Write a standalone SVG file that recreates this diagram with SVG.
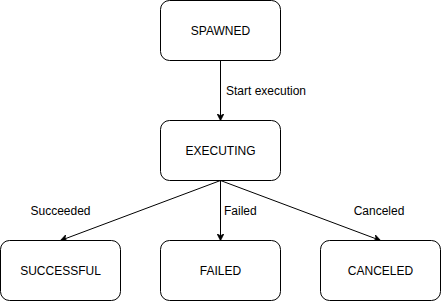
<svg xmlns="http://www.w3.org/2000/svg" width="441" height="301" viewBox="0 0 441 301">
  <style>
    .node rect { fill: #ffffff; stroke: #000000; stroke-width: 1; }
    .node text { font-family: "Liberation Sans", Arial, sans-serif; font-size: 12px; fill: #000000; text-anchor: middle; dominant-baseline: central; }
    .edge { stroke: #000000; stroke-width: 1; fill: none; marker-end: url(#arrow); }
    .label { font-family: "Liberation Sans", Arial, sans-serif; font-size: 12px; fill: #000000; dominant-baseline: central; }
  </style>
  <defs>
    <marker id="arrow" viewBox="0 0 10 10" refX="9" refY="5" markerWidth="7" markerHeight="7" markerUnits="userSpaceOnUse" orient="auto">
      <path d="M0,0 L10,5 L0,10 L3,5 Z" fill="#000000" stroke="#000000" stroke-width="1"/>
    </marker>
  </defs>
  <rect width="441" height="301" fill="#ffffff"/>

  <g id="connectors">
    <line class="edge" x1="220.5" y1="60.5" x2="220.5" y2="120"/>
    <line class="edge" x1="220.5" y1="180.5" x2="61" y2="240.3"/>
    <line class="edge" x1="220.5" y1="180.5" x2="220.5" y2="240"/>
    <line class="edge" x1="220.5" y1="180.5" x2="380" y2="240.3"/>
    <text class="label" x="226" y="91">Start execution</text>
    <text class="label" x="60.5" y="210.5" text-anchor="middle">Succeeded</text>
    <text class="label" x="224" y="210.5">Failed</text>
    <text class="label" x="379" y="210.5" text-anchor="middle">Canceled</text>
  </g>

  <g id="spawned" class="node">
    <rect x="160.5" y="0.5" width="120" height="60" rx="9" ry="9"/>
    <text x="220.5" y="30.5">SPAWNED</text>
  </g>
  <g id="executing" class="node">
    <rect x="160.5" y="120.5" width="120" height="60" rx="9" ry="9"/>
    <text x="220.5" y="150.5">EXECUTING</text>
  </g>
  <g id="successful" class="node">
    <rect x="0.5" y="240.5" width="120" height="60" rx="9" ry="9"/>
    <text x="60.5" y="270.5">SUCCESSFUL</text>
  </g>
  <g id="failed" class="node">
    <rect x="160.5" y="240.5" width="120" height="60" rx="9" ry="9"/>
    <text x="220.5" y="270.5">FAILED</text>
  </g>
  <g id="canceled" class="node">
    <rect x="320.5" y="240.5" width="120" height="60" rx="9" ry="9"/>
    <text x="380.5" y="270.5">CANCELED</text>
  </g>
</svg>
